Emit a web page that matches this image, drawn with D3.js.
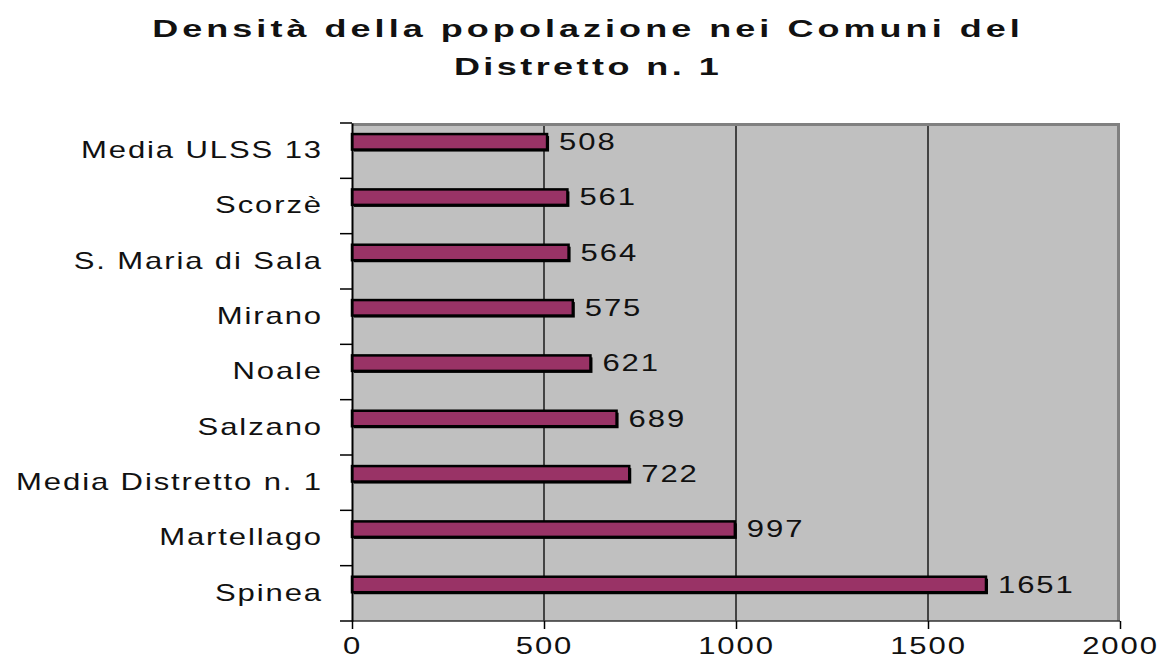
<!DOCTYPE html>
<html>
<head>
<meta charset="utf-8">
<script src="https://cdn.jsdelivr.net/npm/d3@7"></script>
<style>
  body { margin: 0; background: #fff; }
  svg { display: block; }
  text { font-family: "Liberation Sans", Arial, sans-serif; fill: #111; }
</style>
</head>
<body>
<svg id="chart" width="1158" height="663"></svg>
<script>
// data, top to bottom
const comuni = ["Media ULSS 13", "Scorzè", "S. Maria di Sala", "Mirano", "Noale",
  "Salzano", "Media Distretto n. 1", "Martellago", "Spinea"];
const densita = [508, 561, 564, 575, 621, 689, 722, 997, 1651];
const xTicks = [0, 500, 1000, 1500, 2000];
const titolo = ["Densità della popolazione nei Comuni del", "Distretto n. 1"];

const svg = d3.select("#chart");
const margin = {top: 123, right: 38, bottom: 42, left: 352};
const W = 1158, H = 663;
const w = W - margin.left - margin.right;
const h = H - margin.top - margin.bottom;
const sx = 1.35; // the original text is stretched horizontally

const x = d3.scaleLinear().domain([0, 2000]).range([0, w]);
const y = d3.scaleBand().domain(comuni).range([0, h]);

// title
svg.selectAll(".title")
  .data(titolo)
  .enter()
  .append("text")
  .attr("class", "title")
  .attr("transform", (d, i) => `translate(588, ${37 + i * 38}) scale(1.5,1)`)
  .attr("text-anchor", "middle")
  .style("font-size", "24px")
  .style("font-weight", "bold")
  .style("letter-spacing", (d, i) => i == 0 ? "2.7px" : "2.3px")
  .text(d => d);

const g = svg.append("g").attr("transform", `translate(${margin.left},${margin.top})`);

// plot background
g.append("rect")
  .attr("width", w).attr("height", h)
  .attr("fill", "#c0c0c0");

// vertical gridlines
g.selectAll(".grid")
  .data(xTicks.slice(1, -1))
  .enter()
  .append("line")
  .attr("x1", d => x(d)).attr("x2", d => x(d))
  .attr("y1", 0).attr("y2", h)
  .attr("stroke", "#1a1a1a")
  .attr("stroke-width", 1.5);

// frame: gray top/right
g.append("path")
  .attr("d", `M0,1.5H${w - 1.5}V${h}`)
  .attr("fill", "none")
  .attr("stroke", "#808080")
  .attr("stroke-width", 3);
g.append("line")
  .attr("x1", 0).attr("x2", w).attr("y1", h).attr("y2", h)
  .attr("stroke", "#333").attr("stroke-width", 1.5);

// bars: shadow then bar
const bh = y.bandwidth() * 0.28;
const by = d => y(d) + y.bandwidth() * 0.2;

g.selectAll(".shadow")
  .data(comuni)
  .enter()
  .append("rect")
  .attr("x", 2)
  .attr("y", d => by(d) + 2)
  .attr("width", (d, i) => x(densita[i]))
  .attr("height", bh)
  .attr("fill", "#000");

g.selectAll(".bar")
  .data(comuni)
  .enter()
  .append("rect")
  .attr("class", "bar")
  .attr("x", 0)
  .attr("y", d => by(d))
  .attr("width", (d, i) => x(densita[i]))
  .attr("height", bh)
  .attr("fill", "#993366")
  .attr("stroke", "#000")
  .attr("stroke-width", 2.5);

// value labels
g.selectAll(".val")
  .data(comuni)
  .enter()
  .append("text")
  .attr("transform", (d, i) => `translate(${x(densita[i]) + 12}, ${by(d) + bh / 2}) scale(${sx},1)`)
  .attr("dy", "0.35em")
  .style("font-size", "23px")
  .style("letter-spacing", "1.4px")
  .text((d, i) => densita[i]);

// left axis
const yAxis = g.append("g")
  .call(d3.axisLeft(y).tickSizeInner(0).tickSizeOuter(0));
yAxis.select(".domain").attr("stroke", "#000").attr("stroke-width", 2);
yAxis.selectAll(".tick text")
  .attr("x", -29 / sx)
  .attr("transform", `scale(${sx},1)`)
  .style("font-size", "23px")
  .style("letter-spacing", "1.4px")
  .style("font-family", "'Liberation Sans', Arial, sans-serif")
  .attr("fill", "#111");

// band boundary ticks on the left
g.selectAll(".ytick")
  .data(comuni.concat([null]))
  .enter()
  .append("line")
  .attr("x1", -12).attr("x2", 0)
  .attr("y1", (d, i) => i < comuni.length ? y(d) : h)
  .attr("y2", (d, i) => i < comuni.length ? y(d) : h)
  .attr("stroke", "#000")
  .attr("stroke-width", 1.5);

// bottom axis
const xAxis = g.append("g")
  .attr("transform", `translate(0,${h})`)
  .call(d3.axisBottom(x).tickValues(xTicks).tickFormat(d3.format("d")).tickSize(8).tickSizeOuter(0));
xAxis.select(".domain").remove();
xAxis.selectAll(".tick line").attr("stroke", "#000").attr("stroke-width", 1.5);
xAxis.selectAll(".tick text")
  .attr("y", 0)
  .attr("dy", 0)
  .attr("transform", `translate(0,33) scale(${sx},1)`)
  .style("font-size", "23px")
  .style("letter-spacing", "1.4px")
  .style("font-family", "'Liberation Sans', Arial, sans-serif")
  .attr("fill", "#111");
</script>
</body>
</html>
